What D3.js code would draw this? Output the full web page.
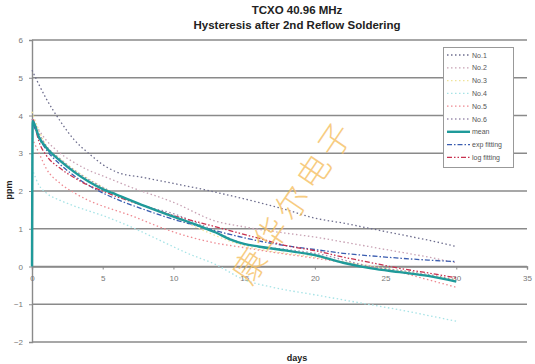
<!DOCTYPE html>
<html><head><meta charset="utf-8">
<script src="https://cdn.jsdelivr.net/npm/d3@7"></script>
<style>body{margin:0;background:#fff;}svg{display:block;font-family:"Liberation Sans",Arial,sans-serif;}</style>
</head><body>
<svg id="c" width="535" height="364"></svg>
<script>
const titleLines = ["TCXO 40.96 MHz", "Hysteresis after 2nd Reflow Soldering"];
const xTicks = [0, 5, 10, 15, 20, 25, 30, 35];
const yTicks = [-2, -1, 0, 1, 2, 3, 4, 5, 6];
const xLabel = "days";
const yLabel = "ppm";
const watermark = "康华尔电子";

const no1 = [[0,5.2],[1,4.45],[2,3.85],[3,3.35],[4,3.0],[5,2.7],[6,2.5],[8,2.35],[10,2.2],[12,2.05],[14,1.88],[16,1.7],[18,1.5],[20,1.28],[22,1.15],[24,1.0],[26,0.85],[28,0.7],[30,0.53]];
const no2 = [[0,3.9],[1,3.35],[2,3.0],[3,2.75],[4,2.55],[5,2.4],[7,2.1],[10,1.7],[13,1.2],[15,1.05],[18,0.88],[20,0.78],[22,0.65],[25,0.45],[28,0.25],[30,0.1]];
const no3 = [[0,4.1],[1,3.2],[2,2.85],[5,2.1],[10,1.3],[15,0.55],[20,0.25],[25,-0.05],[30,-0.35]];
const no4 = [[0,2.6],[0.5,2.15],[1,1.95],[2,1.75],[3,1.6],[5,1.35],[7,1.05],[9,0.7],[11,0.35],[13,0.05],[15,-0.35],[17,-0.55],[20,-0.75],[23,-0.95],[26,-1.15],[30,-1.45]];
const no5 = [[0,3.4],[0.5,3.0],[1,2.6],[2,2.2],[3,1.95],[4,1.75],[5,1.6],[7,1.35],[9,1.05],[11,0.8],[13,0.62],[15,0.5],[17,0.38],[20,0.22],[23,0.05],[26,-0.15],[28,-0.35],[30,-0.55]];
const no6 = [[0,3.9],[1,3.2],[2,2.85],[3,2.55],[5,2.1],[8,1.6],[10,1.4],[12,1.1],[15,0.6],[18,0.45],[20,0.35],[24,0.0],[27,-0.15],[30,-0.35]];
const mean = [[0,0],[0.05,3.85],[0.5,3.42],[1,3.15],[2,2.8],[3,2.5],[4,2.25],[5,2.05],[6,1.9],[8,1.6],[10,1.32],[12,1.05],[13,0.9],[14,0.72],[15,0.6],[16,0.53],[18,0.42],[20,0.3],[22,0.1],[24,-0.05],[26,-0.15],[28,-0.25],[30,-0.4]];
const expFit = [[0.1,3.75],[0.5,3.4],[1,3.1],[2,2.7],[3,2.4],[4,2.15],[5,1.95],[6,1.78],[8,1.5],[10,1.25],[12,1.05],[14,0.85],[16,0.68],[18,0.55],[20,0.45],[22,0.35],[24,0.28],[26,0.22],[28,0.17],[30,0.13]];
const logFit = [[0.1,3.9],[0.5,3.3],[1,2.95],[2,2.6],[3,2.35],[4,2.15],[5,2.0],[6,1.85],[8,1.6],[10,1.35],[12,1.15],[14,0.95],[16,0.75],[18,0.55],[20,0.42],[22,0.25],[24,0.1],[26,-0.05],[28,-0.17],[30,-0.3]];

const seriesNames = ["No.1","No.2","No.3","No.4","No.5","No.6","mean","exp fitting","log fitting"];
const seriesData = [no1,no2,no3,no4,no5,no6,mean,expFit,logFit];
const styles = [
  {c:"#6e6e8e", w:1.3, d:"1.5,2.5"},
  {c:"#c8a2b4", w:1.3, d:"1.5,2.5"},
  {c:"#efe39a", w:1.3, d:"1.5,2.5"},
  {c:"#a6e3e6", w:1.3, d:"1.5,2.5"},
  {c:"#ee8a92", w:1.3, d:"1.5,2.5"},
  {c:"#9c8fae", w:1.3, d:"1.5,2.5"},
  {c:"#1f9a9a", w:2.4, d:null},
  {c:"#3a5db0", w:1.3, d:"5,2,1.5,2"},
  {c:"#c8324f", w:1.3, d:"5,2,1.5,2,1.5,2"}
];

const svg = d3.select("#c");
const x = d3.scaleLinear().domain([0,35]).range([32,527]);
const y = d3.scaleLinear().domain([-2,6]).range([342,40]);

// gridlines
svg.append("g").selectAll("line").data(yTicks).join("line")
  .attr("x1", x(0)).attr("x2", x(35)).attr("y1", d=>y(d)).attr("y2", d=>y(d))
  .attr("stroke","#8a8a8a").attr("stroke-width",1.4);

// y axis
const yAxis = svg.append("g").attr("transform",`translate(${x(0)},0)`)
  .call(d3.axisLeft(y).tickValues(yTicks).tickSize(3).tickPadding(6));
yAxis.select(".domain").attr("stroke","#8a8a8a").attr("stroke-width",1.4);
yAxis.selectAll(".tick line").attr("stroke","#8a8a8a");
yAxis.selectAll("text").attr("fill","#777").style("font-size","8px");

// x axis at y=0
const xAxis = svg.append("g").attr("transform",`translate(0,${y(0)})`)
  .call(d3.axisBottom(x).tickValues(xTicks).tickSize(3).tickPadding(6));
xAxis.select(".domain").attr("stroke","#8a8a8a").attr("stroke-width",1.4);
xAxis.selectAll(".tick line").attr("stroke","#8a8a8a");
xAxis.selectAll("text").attr("fill","#777").style("font-size","8px");

// titles
svg.append("text").attr("x",297).attr("y",14).attr("text-anchor","middle")
  .style("font-weight","bold").style("font-size","11.5px").attr("fill","#222").text(titleLines[0]);
svg.append("text").attr("x",297).attr("y",29).attr("text-anchor","middle")
  .style("font-weight","bold").style("font-size","11.5px").attr("fill","#222").text(titleLines[1]);
svg.append("text").attr("x",297).attr("y",361).attr("text-anchor","middle")
  .style("font-weight","bold").style("font-size","9px").attr("fill","#222").text(xLabel);
svg.append("text").attr("transform","translate(12,190) rotate(-90)").attr("text-anchor","middle")
  .style("font-weight","bold").style("font-size","9px").attr("fill","#222").text(yLabel);

// series
const line = d3.line().x(d=>x(d[0])).y(d=>y(d[1])).curve(d3.curveMonotoneX);
const g = svg.append("g");
[0,1,2,3,4,5,7,8,6].forEach(i=>{
  const p = g.append("path").datum(seriesData[i]).attr("d", line)
    .attr("fill","none").attr("stroke",styles[i].c).attr("stroke-width",styles[i].w);
  if (styles[i].d) p.attr("stroke-dasharray", styles[i].d);
});

// watermark
svg.append("text").attr("transform","translate(292,200) rotate(-56)")
  .attr("text-anchor","middle").attr("dominant-baseline","central")
  .style("font-family","'Noto Sans CJK SC'").style("font-size","33px").style("font-weight","200")
  .style("letter-spacing","5px")
  .attr("fill","#f6c062").attr("opacity",0.8)
  .text(watermark);

// legend
const lg = svg.append("g");
lg.append("rect").attr("x",443.5).attr("y",47.5).attr("width",70).attr("height",120)
  .attr("fill","#fff").attr("stroke","#999").attr("stroke-width",1);
seriesNames.forEach((n,i)=>{
  const yy = 55 + i*12.8;
  const l = lg.append("line").attr("x1",447).attr("x2",470).attr("y1",yy).attr("y2",yy)
    .attr("stroke",styles[i].c).attr("stroke-width",styles[i].w);
  if (styles[i].d) l.attr("stroke-dasharray",styles[i].d);
  lg.append("text").attr("x",472).attr("y",yy+2.5).style("font-size","7px").attr("fill","#555").text(n);
});
</script>
</body></html>
